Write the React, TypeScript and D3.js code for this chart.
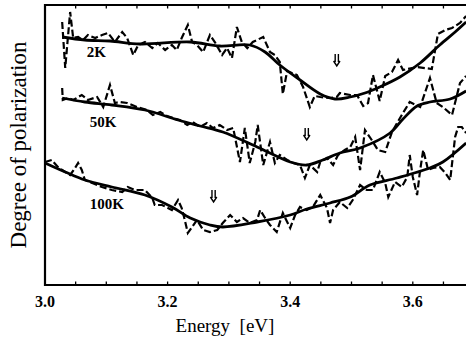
import React from "react";
import * as d3 from "d3";

const width = 466;
const height = 337;

// 2K: smoothed fit and raw (dashed) data
const fit2KE = [3.028, 3.065, 3.106, 3.155, 3.237, 3.285, 3.334, 3.359, 3.383, 3.416, 3.449, 3.473, 3.498, 3.522, 3.546, 3.579, 3.612, 3.644, 3.669, 3.687];
const fit2KV = [24.8, 24.5, 24.4, 24.1, 24.3, 23.9, 24.0, 23.3, 22.0, 20.5, 19.1, 18.6, 18.8, 19.2, 19.8, 20.8, 22.2, 24.0, 25.3, 26.3];
const raw2KE = [3.028, 3.033, 3.041, 3.046, 3.054, 3.062, 3.070, 3.082, 3.093, 3.103, 3.114, 3.126, 3.134, 3.144, 3.152, 3.163, 3.175, 3.184, 3.196, 3.207, 3.215, 3.223, 3.233, 3.240, 3.248, 3.258, 3.269, 3.277, 3.289, 3.297, 3.305, 3.313, 3.321, 3.330, 3.339, 3.356, 3.367, 3.375, 3.383, 3.388, 3.395, 3.411, 3.421, 3.432, 3.440, 3.449, 3.465, 3.476, 3.481, 3.498, 3.509, 3.519, 3.527, 3.535, 3.546, 3.555, 3.566, 3.576, 3.584, 3.607, 3.631, 3.641, 3.653, 3.664, 3.677, 3.687];
const raw2KV = [26.3, 21.7, 27.3, 24.7, 24.8, 24.5, 25.0, 24.7, 25.0, 25.2, 24.3, 25.3, 24.7, 23.0, 24.0, 24.3, 23.7, 24.2, 23.5, 24.0, 23.5, 24.7, 26.0, 24.3, 24.0, 23.3, 25.0, 24.3, 23.0, 23.7, 22.7, 25.8, 24.3, 23.7, 24.3, 24.8, 23.3, 23.0, 22.3, 19.1, 21.4, 21.0, 19.8, 17.8, 18.9, 18.8, 18.7, 18.8, 19.2, 19.0, 19.0, 17.9, 18.2, 21.0, 18.4, 20.9, 21.3, 22.5, 21.5, 21.8, 21.6, 25.1, 25.5, 25.7, 26.2, 26.9];

// 50K
const fit50KE = [3.028, 3.065, 3.109, 3.163, 3.217, 3.253, 3.290, 3.346, 3.400, 3.427, 3.453, 3.481, 3.514, 3.563, 3.584, 3.607, 3.628, 3.661, 3.687];
const fit50KV = [18.7, 18.3, 18.0, 17.5, 16.5, 15.9, 15.3, 13.8, 12.3, 12.0, 12.5, 13.2, 13.7, 15.2, 16.6, 17.9, 18.3, 18.6, 19.4];
const raw50KE = [3.028, 3.029, 3.038, 3.046, 3.060, 3.070, 3.085, 3.095, 3.106, 3.114, 3.122, 3.134, 3.150, 3.166, 3.176, 3.188, 3.199, 3.209, 3.220, 3.232, 3.241, 3.253, 3.264, 3.274, 3.285, 3.297, 3.307, 3.318, 3.326, 3.334, 3.343, 3.347, 3.356, 3.367, 3.375, 3.383, 3.395, 3.405, 3.416, 3.424, 3.432, 3.444, 3.449, 3.460, 3.470, 3.478, 3.489, 3.498, 3.506, 3.514, 3.522, 3.533, 3.543, 3.555, 3.566, 3.582, 3.595, 3.612, 3.628, 3.639, 3.649, 3.664, 3.677, 3.687];
const raw50KV = [19.7, 18.5, 18.7, 18.5, 19.0, 18.5, 18.8, 17.8, 20.0, 18.2, 18.3, 18.2, 17.8, 17.5, 17.0, 17.3, 16.9, 16.7, 16.5, 16.0, 16.3, 15.8, 16.2, 15.7, 16.0, 15.5, 15.7, 12.3, 15.7, 12.2, 14.3, 16.0, 12.0, 14.3, 12.2, 13.0, 12.5, 12.2, 12.0, 10.7, 12.0, 11.3, 12.3, 12.7, 12.0, 13.0, 13.5, 13.8, 14.8, 11.5, 15.5, 14.5, 13.5, 13.3, 15.3, 17.0, 18.3, 17.8, 20.7, 18.2, 17.8, 17.0, 20.2, 20.9];

// 100K
const fit100KE = [3.000, 3.033, 3.065, 3.109, 3.163, 3.207, 3.237, 3.269, 3.290, 3.346, 3.400, 3.427, 3.465, 3.498, 3.530, 3.574, 3.628, 3.649, 3.687];
const fit100KV = [12.2, 11.3, 10.5, 9.8, 9.0, 7.8, 6.7, 6.0, 5.8, 6.3, 7.0, 7.6, 8.2, 8.8, 10.0, 10.7, 11.7, 12.3, 14.2];
const raw100KE = [3.000, 3.011, 3.021, 3.033, 3.041, 3.049, 3.054, 3.060, 3.065, 3.077, 3.093, 3.109, 3.126, 3.135, 3.147, 3.163, 3.175, 3.179, 3.191, 3.207, 3.217, 3.223, 3.228, 3.233, 3.240, 3.248, 3.258, 3.269, 3.281, 3.290, 3.302, 3.313, 3.323, 3.334, 3.346, 3.351, 3.359, 3.367, 3.378, 3.388, 3.400, 3.408, 3.416, 3.427, 3.437, 3.449, 3.460, 3.465, 3.470, 3.481, 3.493, 3.502, 3.514, 3.525, 3.535, 3.546, 3.555, 3.560, 3.571, 3.582, 3.591, 3.595, 3.600, 3.607, 3.612, 3.617, 3.625, 3.633, 3.644, 3.653, 3.661, 3.669, 3.674, 3.680, 3.687];
const raw100KV = [12.3, 12.5, 11.8, 11.3, 11.0, 11.7, 12.2, 11.5, 10.5, 10.2, 9.8, 9.5, 9.3, 9.8, 9.5, 9.5, 8.7, 8.0, 8.0, 7.5, 8.5, 7.7, 6.5, 5.2, 5.8, 6.5, 5.5, 5.3, 5.5, 6.2, 7.0, 6.3, 6.7, 6.2, 6.5, 7.5, 6.7, 6.0, 5.3, 7.2, 5.7, 7.0, 7.8, 7.5, 7.8, 9.0, 7.7, 6.2, 7.5, 8.3, 7.7, 8.5, 10.0, 9.5, 9.5, 11.3, 10.2, 8.8, 10.3, 9.8, 10.8, 13.0, 10.8, 9.0, 11.5, 13.5, 11.5, 11.7, 11.8, 11.2, 10.5, 14.8, 15.8, 15.8, 15.2];

// curve labels and minimum markers
const labels = ["2K", "50K", "100K"];
const labelE = [3.068, 3.073, 3.073];
const labelV = [22.8, 15.8, 7.6];
const arrowE = [3.476, 3.427, 3.275];
const arrowV = [22.5, 15.1, 8.9];

const majorTicks = [3.0, 3.2, 3.4, 3.6];
const minorTicks = d3.range(3.05, 3.7, 0.05);

const zip = (xs: number[], ys: number[]) => xs.map((e, i) => [e, ys[i]] as [number, number]);

const fits = [zip(fit2KE, fit2KV), zip(fit50KE, fit50KV), zip(fit100KE, fit100KV)];
const raws = [zip(raw2KE, raw2KV), zip(raw50KE, raw50KV), zip(raw100KE, raw100KV)];

export default function App() {
  const x = d3.scaleLinear().domain([3.0, 3.7]).range([45, 474.1]);
  const y = d3.scaleLinear().domain([0, 28]).range([285, 5]);

  const smooth = d3
    .line<[number, number]>()
    .x((d) => x(d[0]))
    .y((d) => y(d[1]))
    .curve(d3.curveCatmullRom.alpha(0.5));
  const jagged = d3
    .line<[number, number]>()
    .x((d) => x(d[0]))
    .y((d) => y(d[1]));

  const serif = "'Liberation Serif', 'Times New Roman', serif";

  return (
    <svg
      width={width}
      height={height}
      style={{ position: "absolute", left: 0, top: 0, background: "#fff" }}
    >
      {/* frame */}
      <line x1={x(3.0)} x2={x(3.7)} y1={5} y2={5} stroke="#000" strokeWidth={2} />
      <line x1={x(3.0)} x2={x(3.7)} y1={285} y2={285} stroke="#000" strokeWidth={2} />
      <line x1={x(3.0)} x2={x(3.0)} y1={4} y2={286} stroke="#000" strokeWidth={2.2} />

      {/* ticks, inward */}
      {minorTicks.map((t, i) => (
        <g key={i}>
          <line x1={x(t)} x2={x(t)} y1={285} y2={281.5} stroke="#000" strokeWidth={1.3} />
          <line x1={x(t)} x2={x(t)} y1={5} y2={8.5} stroke="#000" strokeWidth={1.3} />
        </g>
      ))}
      {majorTicks.map((t) => (
        <text
          key={t}
          x={x(t)}
          y={307}
          textAnchor="middle"
          fontFamily={serif}
          fontWeight="bold"
          fontSize={16}
        >
          {t.toFixed(1)}
        </text>
      ))}

      <text x={225} y={332} textAnchor="middle" fontFamily={serif} fontSize={19} xmlSpace="preserve">
        {"Energy  [eV]"}
      </text>
      <text
        transform="translate(26,145) rotate(-90)"
        textAnchor="middle"
        fontFamily={serif}
        fontSize={23}
      >
        Degree of polarization
      </text>

      {/* data */}
      {raws.map((r, i) => (
        <path
          key={"r" + i}
          d={jagged(r) ?? ""}
          fill="none"
          stroke="#000"
          strokeWidth={2.2}
          strokeDasharray="7,3"
        />
      ))}
      {fits.map((f, i) => (
        <path key={"f" + i} d={smooth(f) ?? ""} fill="none" stroke="#000" strokeWidth={2.8} />
      ))}

      {labels.map((l, i) => (
        <text
          key={l}
          x={x(labelE[i])}
          y={y(labelV[i])}
          fontFamily={serif}
          fontSize={15}
          fontWeight="bold"
        >
          {l}
        </text>
      ))}

      {arrowE.map((e, i) => {
        const cx = x(e);
        const cy = y(arrowV[i]);
        return (
          <path
            key={"a" + i}
            d={`M${cx - 1.6},${cy - 6} V${cy + 2} M${cx + 1.6},${cy - 6} V${cy + 2} M${cx - 3.2},${cy + 1} L${cx},${cy + 6} L${cx + 3.2},${cy + 1}`}
            fill="none"
            stroke="#000"
            strokeWidth={1.4}
          />
        );
      })}
    </svg>
  );
}
